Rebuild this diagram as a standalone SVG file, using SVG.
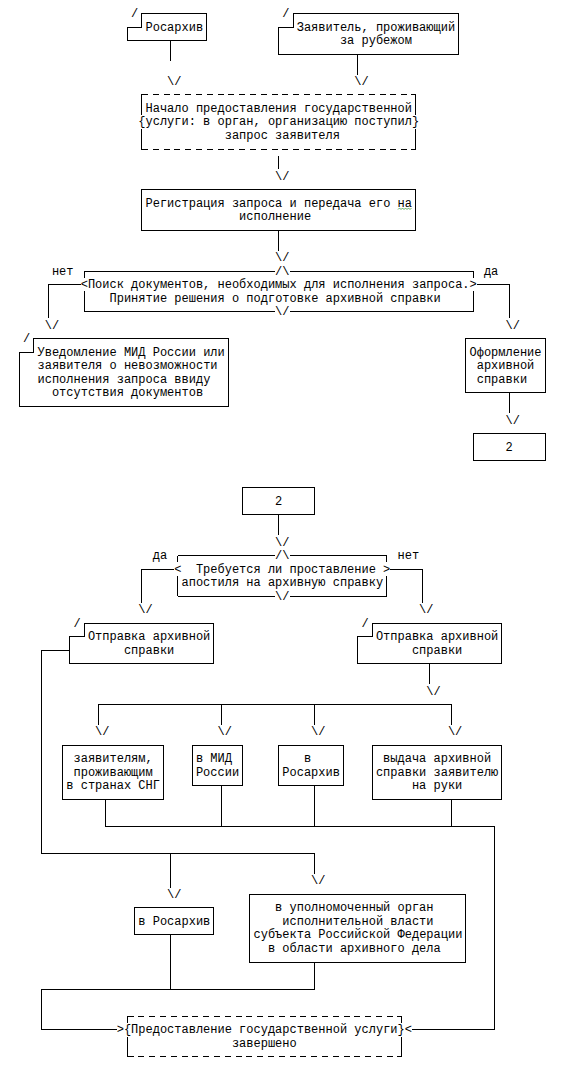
<svg xmlns="http://www.w3.org/2000/svg" width="564" height="1067" viewBox="0 0 564 1067">
<style>
.t{font-family:"Liberation Mono","Courier New",monospace;font-size:12px;fill:#000}
.s{fill:none;stroke:#000;stroke-width:1;shape-rendering:crispEdges}
.d{fill:none;stroke:#000;stroke-width:1;stroke-dasharray:6 4.8;shape-rendering:crispEdges}
.b{fill:#fff;stroke:#000;stroke-width:1;shape-rendering:crispEdges}
</style>
<rect width="564" height="1067" fill="#fff"/>

<g id="node-rosarkhiv">
<path class="s" d="M141.9,13.55H206.7V40.65H127.5V27.1H141.9Z"/>
<text class="t" x="131.1" y="17.05">/</text>
<text class="t" x="145.5" y="30.6">Росархив</text>
</g>

<g id="node-zayavitel">
<path class="s" d="M293.1,13.55H458.7V54.2H278.7V27.1H293.1Z"/>
<text class="t" x="282.3" y="17.05">/</text>
<text class="t" x="296.7" y="30.6">Заявитель, проживающий</text>
<text class="t" x="339.9" y="44.15">за рубежом</text>
</g>

<g id="node-start">
<path class="d" d="M141.9,94.85H415.5M141.9,149.05H415.5"/>
<path class="s" d="M146,94.85H141.9V115.175M141.9,128.725V149.05H146M411.4,94.85H415.5V115.175M415.5,128.725V149.05H411.4"/>
<text class="t" x="138.3" y="125.45">{</text>
<text class="t" x="411.9" y="125.45">}</text>
<text class="t" x="145.5" y="111.9">Начало предоставления государственной</text>
<text class="t" x="145.5" y="125.45">услуги: в орган, организацию поступил</text>
<text class="t" x="224.7" y="139">запрос заявителя</text>
</g>

<g id="node-registration">
<rect class="s" x="141.9" y="189.7" width="273.6" height="40.65"/>
<text class="t" x="145.5" y="206.75">Регистрация запроса и передача его на</text>
<text class="t" x="239.1" y="220.3">исполнение</text>
<path d="M398,209.5l1.5,-1.5l1.5,1.5l1.5,-1.5l1.5,1.5l1.5,-1.5l1.5,1.5l1.5,-1.5l1.5,1.5l1.5,-1.5" fill="none" stroke="#3c9c3c" stroke-width="0.8"/>
</g>

<g id="node-search">
<path class="s" d="M84.3,271H275.1M289.5,271H473.1M84.3,311.65H275.1M289.5,311.65H473.1M84.3,271V277.775M84.3,291.325V311.65M473.1,271V277.775M473.1,291.325V311.65"/>
<text class="t" x="275.1" y="274.5">/\</text>
<text class="t" x="275.1" y="315.15">\/</text>
<text class="t" x="80.7" y="288.05">&lt;</text>
<text class="t" x="469.5" y="288.05">&gt;</text>
<text class="t" x="87.9" y="288.05">Поиск документов, необходимых для исполнения запроса.</text>
<text class="t" x="109.5" y="301.6">Принятие решения о подготовке архивной справки</text>
</g>

<g id="node-notify">
<path class="s" d="M33.9,338.75H228.3V406.5H19.5V352.3H33.9Z"/>
<text class="t" x="23.1" y="342.25">/</text>
<text class="t" x="37.5" y="355.8">Уведомление МИД России или</text>
<text class="t" x="37.5" y="369.35">заявителя о невозможности</text>
<text class="t" x="37.5" y="382.9">исполнения запроса ввиду</text>
<text class="t" x="51.9" y="396.45">отсутствия документов</text>
</g>

<g id="node-prepare">
<rect class="s" x="465.9" y="338.75" width="79.2" height="54.2"/>
<text class="t" x="469.5" y="355.8">Оформление</text>
<text class="t" x="476.7" y="369.35">архивной</text>
<text class="t" x="476.7" y="382.9">справки</text>
</g>

<g id="node-ref2-out">
<rect class="s" x="473.1" y="433.6" width="72" height="27.1"/>
<text class="t" x="505.5" y="450.65">2</text>
</g>

<g id="node-ref2-in">
<rect class="s" x="242.7" y="487.8" width="72" height="27.1"/>
<text class="t" x="275.1" y="504.85">2</text>
</g>

<g id="node-apostille">
<path class="s" d="M177.9,555.55H275.1M289.5,555.55H386.7M177.9,596.2H275.1M289.5,596.2H386.7M177.9,555.55V562.325M177.9,575.875V596.2M386.7,555.55V562.325M386.7,575.875V596.2"/>
<text class="t" x="275.1" y="559.05">/\</text>
<text class="t" x="275.1" y="599.7">\/</text>
<text class="t" x="174.3" y="572.6">&lt;</text>
<text class="t" x="383.1" y="572.6">&gt;</text>
<text class="t" x="195.9" y="572.6">Требуется ли проставление</text>
<text class="t" x="181.5" y="586.15">апостиля на архивную справку</text>
</g>

<g id="node-send-left">
<path class="s" d="M84.3,623.3H213.9V663.95H69.9V636.85H84.3Z"/>
<text class="t" x="73.5" y="626.8">/</text>
<text class="t" x="87.9" y="640.35">Отправка архивной</text>
<text class="t" x="123.9" y="653.9">справки</text>
</g>

<g id="node-send-right">
<path class="s" d="M372.3,623.3H501.9V663.95H357.9V636.85H372.3Z"/>
<text class="t" x="361.5" y="626.8">/</text>
<text class="t" x="375.9" y="640.35">Отправка архивной</text>
<text class="t" x="411.9" y="653.9">справки</text>
</g>

<g id="node-cis">
<rect class="s" x="62.7" y="745.25" width="100.8" height="54.2"/>
<text class="t" x="73.5" y="762.3">заявителям,</text>
<text class="t" x="73.5" y="775.85">проживающим</text>
<text class="t" x="66.3" y="789.4">в странах СНГ</text>
</g>

<g id="node-mfa">
<rect class="s" x="192.3" y="745.25" width="50.4" height="40.65"/>
<text class="t" x="195.9" y="762.3">в МИД</text>
<text class="t" x="195.9" y="775.85">России</text>
</g>

<g id="node-rosarkhiv-send">
<rect class="s" x="278.7" y="745.25" width="64.8" height="40.65"/>
<text class="t" x="303.9" y="762.3">в</text>
<text class="t" x="282.3" y="775.85">Росархив</text>
</g>

<g id="node-hand">
<rect class="s" x="372.3" y="745.25" width="129.6" height="54.2"/>
<text class="t" x="383.1" y="762.3">выдача архивной</text>
<text class="t" x="375.9" y="775.85">справки заявителю</text>
<text class="t" x="411.9" y="789.4">на руки</text>
</g>

<g id="node-rosarkhiv-apostille">
<rect class="s" x="134.7" y="907.85" width="79.2" height="27.1"/>
<text class="t" x="138.3" y="924.9">в Росархив</text>
</g>

<g id="node-regional">
<rect class="s" x="249.9" y="894.3" width="216" height="67.75"/>
<text class="t" x="275.1" y="911.35">в уполномоченный орган</text>
<text class="t" x="282.3" y="924.9">исполнительной власти</text>
<text class="t" x="253.5" y="938.45">субъекта Российской Федерации</text>
<text class="t" x="267.9" y="952">в области архивного дела</text>
</g>

<g id="node-end">
<path class="d" d="M127.5,1016.25H401.1M127.5,1056.9H401.1"/>
<path class="s" d="M131.6,1016.25H127.5V1023.025M127.5,1036.575V1056.9H131.6M397,1016.25H401.1V1023.025M401.1,1036.575V1056.9H397"/>
<text class="t" x="123.9" y="1033.3">{</text>
<text class="t" x="397.5" y="1033.3">}</text>
<text class="t" x="131.1" y="1033.3">Предоставление государственной услуги</text>
<text class="t" x="231.9" y="1046.85">завершено</text>
</g>

<g id="connectors">
<path class="s" d="M170.7,40.65V60.975"/>
<path class="s" d="M357.9,54.2V74.525"/>
<text class="t" x="167.1" y="84.8">\/</text>
<text class="t" x="354.3" y="84.8">\/</text>

<path class="s" d="M278.7,155.825V169.375"/>
<text class="t" x="275.1" y="179.65">\/</text>

<path class="s" d="M278.7,230.35V250.675"/>
<text class="t" x="275.1" y="260.95">\/</text>

<text class="t" x="51.9" y="274.5">нет</text>
<text class="t" x="483.9" y="274.5">да</text>
<path class="s" d="M80.7,284.55H48.3V318.425"/>
<path class="s" d="M476.7,284.55H509.1V318.425"/>
<text class="t" x="44.7" y="328.7">\/</text>
<text class="t" x="505.5" y="328.7">\/</text>

<path class="s" d="M509.1,392.95V413.275"/>
<text class="t" x="505.5" y="423.55">\/</text>

<path class="s" d="M278.7,514.9V535.225"/>
<text class="t" x="275.1" y="545.5">\/</text>

<text class="t" x="152.7" y="559.05">да</text>
<text class="t" x="397.5" y="559.05">нет</text>
<path class="s" d="M174.3,569.1H141.9V602.975"/>
<path class="s" d="M390.3,569.1H422.7V602.975"/>
<text class="t" x="138.3" y="613.25">\/</text>
<text class="t" x="419.1" y="613.25">\/</text>

<path class="s" d="M429.9,663.95V684.275"/>
<text class="t" x="426.3" y="694.55">\/</text>
<path class="s" d="M98.7,724.925V704.6H451.5V724.925M221.1,704.6V724.925M314.7,704.6V724.925"/>
<text class="t" x="95.1" y="735.2">\/</text>
<text class="t" x="217.5" y="735.2">\/</text>
<text class="t" x="311.1" y="735.2">\/</text>
<text class="t" x="447.9" y="735.2">\/</text>

<path class="s" d="M105.9,799.45V826.55H494.7V1029.8H411.9M221.1,785.9V826.55M314.7,785.9V826.55M451.5,799.45V826.55"/>
<text class="t" x="404.7" y="1033.3">&lt;</text>

<path class="s" d="M69.9,650.4H41.1V853.65H314.7V873.975M170.7,853.65V887.525"/>
<text class="t" x="311.1" y="884.25">\/</text>
<text class="t" x="167.1" y="897.8">\/</text>

<path class="s" d="M170.7,934.95V989.15M314.7,962.05V989.15H41.1V1029.8H116.7"/>
<text class="t" x="116.7" y="1033.3">&gt;</text>
</g>
</svg>
